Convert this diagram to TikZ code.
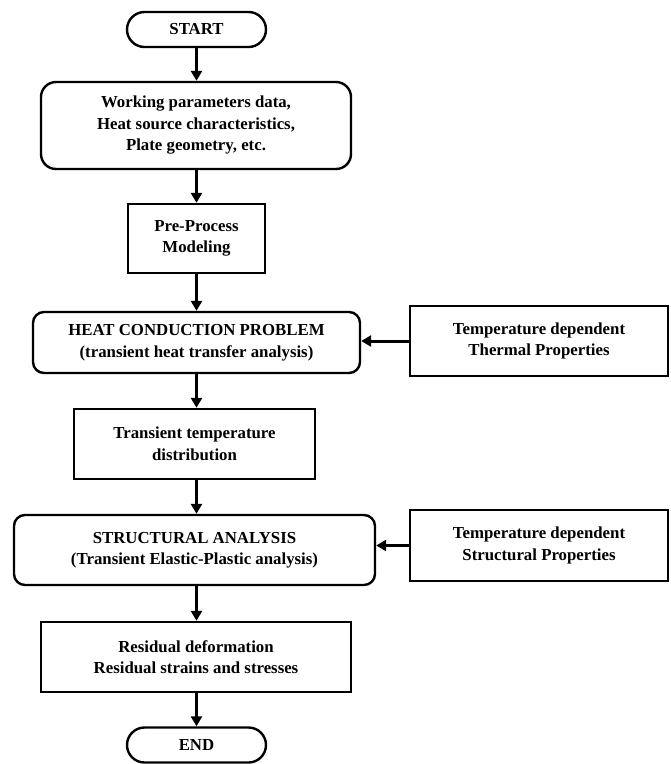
\documentclass[tikz,border=0pt]{standalone}
\usepackage{fontspec}
\setmainfont{Liberation Serif}
\usetikzlibrary{arrows.meta,shapes.misc}
\begin{document}
\begin{tikzpicture}[x=1pt,y=-1pt,
  every node/.style={font=\bfseries\fontsize{16.8}{21.5}\selectfont, align=center, inner sep=0pt},
  sq/.style={draw, line width=2.4pt},
  rnd/.style={draw, line width=2.4pt, rounded corners=11pt},
  term/.style={draw, line width=2.4pt, rounded rectangle},
  arr/.style={line width=3pt, -{Triangle[length=10pt,width=11pt]}}]
\useasboundingbox (0,0) rectangle (671,764);
\node[term, minimum width=139pt, minimum height=35pt] (start) at (196.5,29.5) {START};
\node[rnd, rounded corners=15pt, minimum width=310pt, minimum height=87pt] (input) at (196,125.5)
  {Working parameters data,\\Heat source characteristics,\\Plate geometry, etc.};
\node[sq, minimum width=137pt, minimum height=69pt] (pre) at (196.5,238.5) {Pre-Process\\Modeling};
\node[rnd, minimum width=327pt, minimum height=61pt] (hc) at (196.5,342.5)
  {HEAT CONDUCTION PROBLEM\\(transient heat transfer analysis)};
\node[sq, minimum width=258pt, minimum height=70pt] (thermal) at (539,341)
  {Temperature dependent\\Thermal Properties};
\node[sq, minimum width=241pt, minimum height=70pt] (trans) at (194.5,444)
  {Transient temperature\\distribution};
\node[rnd, minimum width=361pt, minimum height=70pt] (struct) at (194.5,550)
  {STRUCTURAL ANALYSIS\\(Transient Elastic-Plastic analysis)};
\node[sq, minimum width=258pt, minimum height=71pt] (sprops) at (539,545.5)
  {Temperature dependent\\Structural Properties};
\node[sq, minimum width=310pt, minimum height=70pt] (resid) at (196,657)
  {Residual deformation\\Residual strains and stresses};
\node[term, minimum width=139pt, minimum height=35pt] (end) at (196.5,745) {END};
\draw[arr] (start.south) -- (start.south |- input.north);
\draw[arr] (start.south |- input.south) -- (start.south |- pre.north);
\draw[arr] (start.south |- pre.south) -- (start.south |- hc.north);
\draw[arr] (start.south |- hc.south) -- (start.south |- trans.north);
\draw[arr] (start.south |- trans.south) -- (start.south |- struct.north);
\draw[arr] (start.south |- struct.south) -- (start.south |- resid.north);
\draw[arr] (start.south |- resid.south) -- (end.north);
\draw[arr] (thermal.west) -- (thermal.west -| hc.east);
\draw[arr] (sprops.west) -- (sprops.west -| struct.east);
\end{tikzpicture}
\end{document}
